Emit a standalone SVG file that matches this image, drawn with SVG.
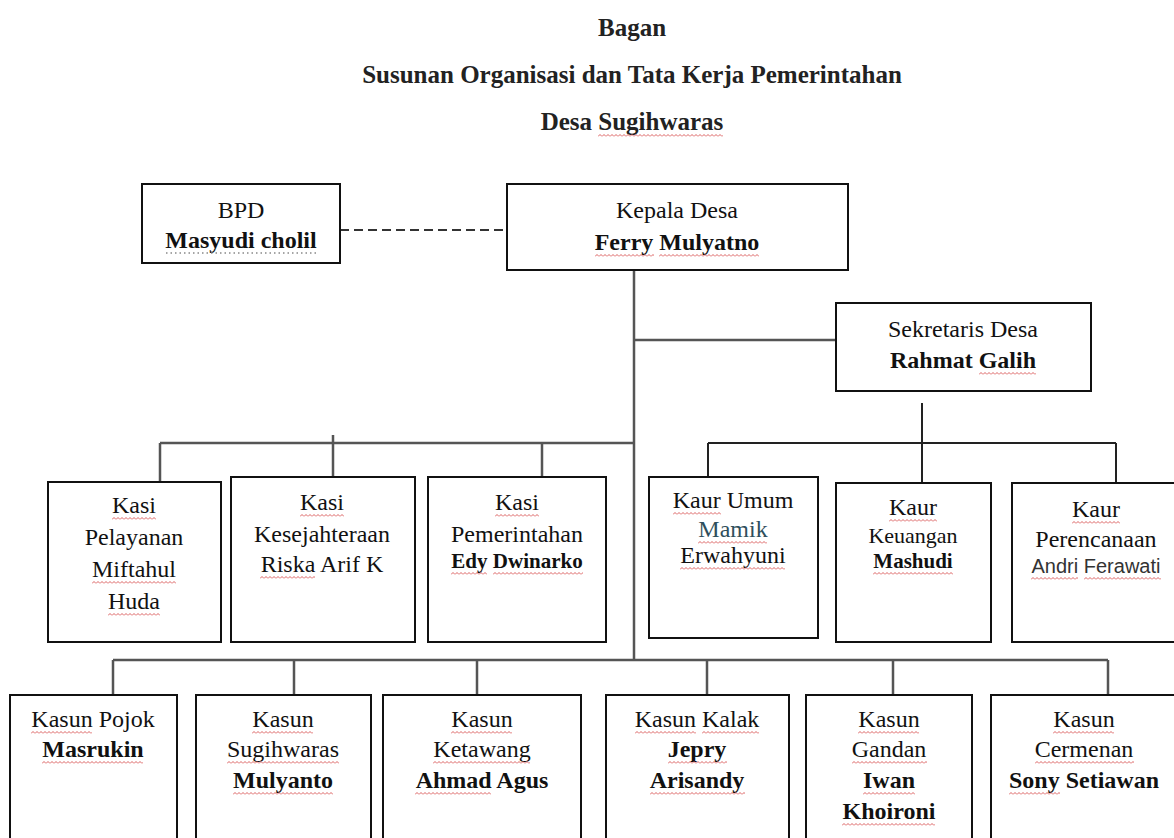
<svg xmlns="http://www.w3.org/2000/svg" width="1174" height="838" viewBox="0 0 1174 838">
<style>
.box{fill:#fff;stroke:#111;stroke-width:2}
.t{font-family:"Liberation Serif","Times New Roman",serif;font-size:24px;fill:#111;text-anchor:middle}
.b{font-weight:bold}
.sm{font-size:21px;font-weight:bold}
.sans{font-family:"Liberation Sans",Arial,sans-serif;font-size:20px;fill:#333}
.title{font-family:"Liberation Serif","Times New Roman",serif;font-size:25px;font-weight:bold;fill:#222;text-anchor:middle}
.ln{stroke:#555;stroke-width:2.5;fill:none}
.dn{stroke:#222;stroke-width:2;fill:none}
.dash{stroke:#333;stroke-width:2;stroke-dasharray:9 5;fill:none}
.wv{fill:url(#zz)}
.dot{stroke:#888;stroke-width:1.5;stroke-dasharray:1.5 3;fill:none}
</style>
<defs>
<pattern id="zz" width="4" height="3" patternUnits="userSpaceOnUse">
<path d="M0 2.5L2 0.5L4 2.5" stroke="#d85050" stroke-width="0.9" fill="none"/>
</pattern>
</defs>
<rect width="1174" height="838" fill="#fff"/>
<g id="title">
<text class="title" x="632" y="36">Bagan</text>
<text class="title" x="632" y="83">Susunan Organisasi dan Tata Kerja Pemerintahan</text>
<text class="title" x="632" y="130">Desa Sugihwaras</text>
<rect class="wv" transform="translate(598,134)" width="125" height="3"/>
</g>
<g id="connectors">
<path class="dash" d="M340 230H507"/>
<path class="ln" d="M634 270V660"/>
<path class="ln" d="M634 340H836"/>
<path class="dn" d="M922 403V483"/>
<path class="dn" d="M708 443H1116M708 443V477M1116 443V483"/>
<path class="ln" d="M160 443H634M160 443V482M333 435V477M542 443V477"/>
<path class="ln" d="M113 660H1108M113 660V695M294 660V695M477 660V695M707 660V695M893 660V695M1108 660V695"/>
</g>
<g id="bpd">
<rect class="box" x="142" y="184" width="198" height="79"/>
<text class="t" x="241" y="218">BPD</text>
<text class="t b" x="241" y="248">Masyudi cholil</text>
<path class="dot" d="M166 253H317"/>
</g>
<g id="kepala-desa">
<rect class="box" x="507" y="184" width="341" height="86"/>
<text class="t" x="677" y="218">Kepala Desa</text>
<text class="t b" x="677" y="250">Ferry Mulyatno</text>
<rect class="wv" transform="translate(595,254)" width="59" height="3"/>
<rect class="wv" transform="translate(659,254)" width="100" height="3"/>
</g>
<g id="sekretaris-desa">
<rect class="box" x="836" y="303" width="255" height="88"/>
<text class="t" x="963" y="337">Sekretaris Desa</text>
<text class="t b" x="963" y="368">Rahmat Galih</text>
<rect class="wv" transform="translate(979,372)" width="57" height="3"/>
</g>
<g id="kasi-pelayanan">
<rect class="box" x="48" y="482" width="173" height="160"/>
<text class="t" x="134" y="513">Kasi</text>
<text class="t" x="134" y="545">Pelayanan</text>
<text class="t" x="134" y="577">Miftahul</text>
<text class="t" x="134" y="609">Huda</text>
<rect class="wv" transform="translate(112,517)" width="44" height="3"/>
<rect class="wv" transform="translate(92,581)" width="84" height="3"/>
<rect class="wv" transform="translate(108,613)" width="52" height="3"/>
</g>
<g id="kasi-kesejahteraan">
<rect class="box" x="231" y="477" width="184" height="165"/>
<text class="t" x="322" y="510">Kasi</text>
<text class="t" x="322" y="542">Kesejahteraan</text>
<text class="t" x="322" y="572">Riska Arif K</text>
<rect class="wv" transform="translate(300,514)" width="44" height="3"/>
<rect class="wv" transform="translate(260,576)" width="55" height="3"/>
</g>
<g id="kasi-pemerintahan">
<rect class="box" x="428" y="477" width="178" height="165"/>
<text class="t" x="517" y="510">Kasi</text>
<text class="t" x="517" y="542">Pemerintahan</text>
<text class="t sm" x="517" y="568">Edy Dwinarko</text>
<rect class="wv" transform="translate(495,514)" width="44" height="3"/>
<rect class="wv" transform="translate(451,572)" width="36" height="3"/>
<rect class="wv" transform="translate(493,572)" width="90" height="3"/>
</g>
<g id="kaur-umum">
<rect class="box" x="649" y="477" width="169" height="161"/>
<text class="t" x="733" y="508">Kaur Umum</text>
<text class="t" x="733" y="537" style="fill:#2f4f5c">Mamik</text>
<text class="t" x="733" y="563">Erwahyuni</text>
<rect class="wv" transform="translate(673,512)" width="48" height="3"/>
<rect class="wv" transform="translate(698,541)" width="69" height="3"/>
<rect class="wv" transform="translate(680,567)" width="105" height="3"/>
</g>
<g id="kaur-keuangan">
<rect class="box" x="836" y="483" width="155" height="159"/>
<text class="t" x="913" y="515">Kaur</text>
<text class="t" x="913" y="543" style="font-size:22px">Keuangan</text>
<text class="t sm" x="913" y="568">Mashudi</text>
<rect class="wv" transform="translate(889,519)" width="48" height="3"/>
<rect class="wv" transform="translate(873,572)" width="80" height="3"/>
</g>
<g id="kaur-perencanaan">
<rect class="box" x="1012" y="483" width="170" height="159"/>
<text class="t" x="1096" y="517">Kaur</text>
<text class="t" x="1096" y="547">Perencanaan</text>
<text class="t sans" x="1096" y="573">Andri Ferawati</text>
<rect class="wv" transform="translate(1072,521)" width="48" height="3"/>
<rect class="wv" transform="translate(1031,577)" width="47" height="3"/>
<rect class="wv" transform="translate(1084,577)" width="77" height="3"/>
</g>
<g id="kasun-pojok">
<rect class="box" x="10" y="695" width="167" height="160"/>
<text class="t" x="93" y="727">Kasun Pojok</text>
<text class="t b" x="93" y="757">Masrukin</text>
<rect class="wv" transform="translate(31,731)" width="61" height="3"/>
<rect class="wv" transform="translate(42,761)" width="101" height="3"/>
</g>
<g id="kasun-sugihwaras">
<rect class="box" x="196" y="695" width="175" height="160"/>
<text class="t" x="283" y="727">Kasun</text>
<text class="t" x="283" y="757">Sugihwaras</text>
<text class="t b" x="283" y="788">Mulyanto</text>
<rect class="wv" transform="translate(252,731)" width="61" height="3"/>
<rect class="wv" transform="translate(227,761)" width="112" height="3"/>
<rect class="wv" transform="translate(233,792)" width="100" height="3"/>
</g>
<g id="kasun-ketawang">
<rect class="box" x="383" y="695" width="198" height="160"/>
<text class="t" x="482" y="727">Kasun</text>
<text class="t" x="482" y="757">Ketawang</text>
<text class="t b" x="482" y="788">Ahmad Agus</text>
<rect class="wv" transform="translate(451,731)" width="61" height="3"/>
<rect class="wv" transform="translate(433,761)" width="97" height="3"/>
<rect class="wv" transform="translate(415,792)" width="76" height="3"/>
</g>
<g id="kasun-kalak">
<rect class="box" x="606" y="695" width="183" height="160"/>
<text class="t" x="697" y="727">Kasun Kalak</text>
<text class="t b" x="697" y="757">Jepry</text>
<text class="t b" x="697" y="788">Arisandy</text>
<rect class="wv" transform="translate(635,731)" width="61" height="3"/>
<rect class="wv" transform="translate(702,731)" width="57" height="3"/>
<rect class="wv" transform="translate(668,761)" width="59" height="3"/>
<rect class="wv" transform="translate(650,792)" width="95" height="3"/>
</g>
<g id="kasun-gandan">
<rect class="box" x="806" y="695" width="166" height="160"/>
<text class="t" x="889" y="727">Kasun</text>
<text class="t" x="889" y="757">Gandan</text>
<text class="t b" x="889" y="788">Iwan</text>
<text class="t b" x="889" y="819">Khoironi</text>
<rect class="wv" transform="translate(858,731)" width="61" height="3"/>
<rect class="wv" transform="translate(852,761)" width="75" height="3"/>
<rect class="wv" transform="translate(863,792)" width="52" height="3"/>
<rect class="wv" transform="translate(842,823)" width="93" height="3"/>
</g>
<g id="kasun-cermenan">
<rect class="box" x="991" y="695" width="190" height="160"/>
<text class="t" x="1084" y="727">Kasun</text>
<text class="t" x="1084" y="757">Cermenan</text>
<text class="t b" x="1084" y="788">Sony Setiawan</text>
<rect class="wv" transform="translate(1053,731)" width="61" height="3"/>
<rect class="wv" transform="translate(1035,761)" width="99" height="3"/>
<rect class="wv" transform="translate(1009,792)" width="51" height="3"/>
</g>
</svg>
